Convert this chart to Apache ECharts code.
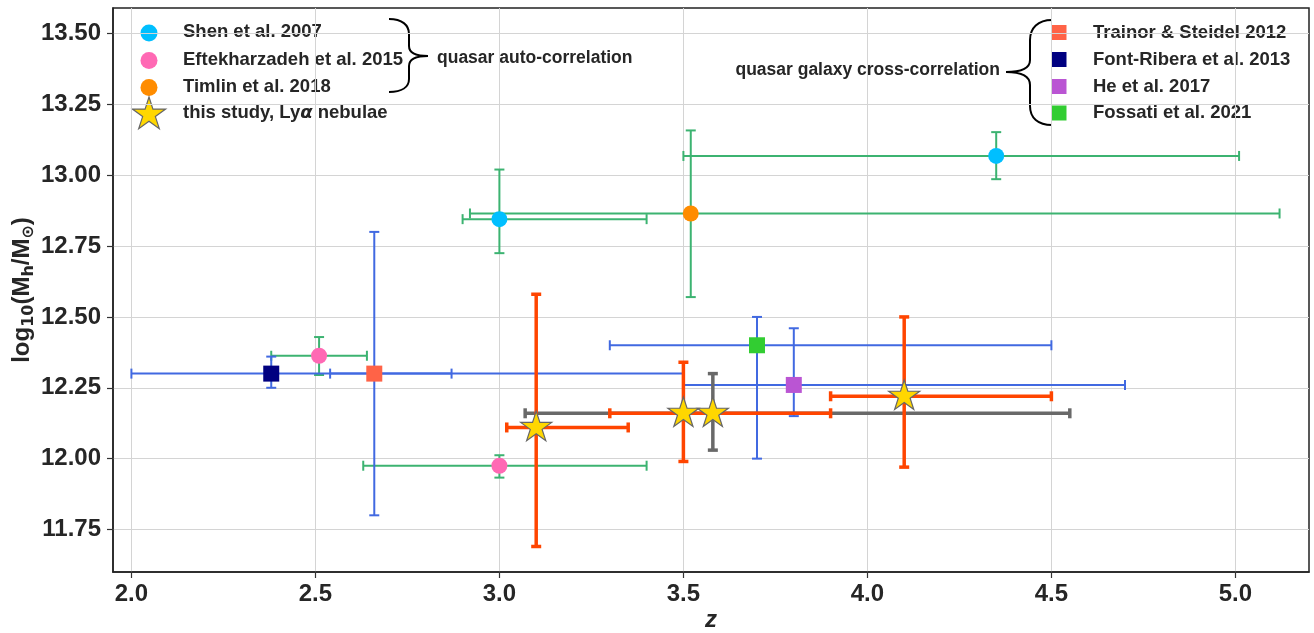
<!DOCTYPE html>
<html><head><meta charset="utf-8">
<script src="https://cdn.jsdelivr.net/npm/echarts@6/dist/echarts.min.js"></script>
<style>html,body{margin:0;padding:0;background:#fff}#c{width:1314px;height:633px}</style>
</head><body><div id="c"></div>
<script>
// Each row: [z, log10(Mh/Msun), zLow, zHigh, massLow, massHigh]
const shen2007 = [[3.00, 12.845, 2.90, 3.40, 12.725, 13.02], [4.35, 13.068, 3.50, 5.01, 12.986, 13.152]];
const eftekharzadeh2015 = [[2.51, 12.363, 2.38, 2.64, 12.295, 12.429], [3.00, 11.975, 2.63, 3.40, 11.933, 12.012]];
const timlin2018 = [[3.52, 12.865, 2.92, 5.12, 12.57, 13.158]];
const trainor2012 = [[2.66, 12.30, 2.54, 2.87, 11.80, 12.80]];
const fontRibera2013 = [[2.38, 12.30, 2.00, 3.50, 12.25, 12.36]];
const he2017 = [[3.80, 12.26, 3.50, 4.70, 12.15, 12.46]];
const fossati2021 = [[3.70, 12.40, 3.30, 4.50, 12.00, 12.50]];
const lyaNebulae = [[3.10, 12.11, 3.02, 3.35, 11.69, 12.58], [3.50, 12.16, 3.30, 3.90, 11.99, 12.34], [4.10, 12.22, 3.90, 4.50, 11.97, 12.50]];
const lyaNebulaeAll = [[3.58, 12.16, 3.07, 4.55, 12.03, 12.30]];
const xTicks = [2.0, 2.5, 3.0, 3.5, 4.0, 4.5, 5.0];
const yTicks = [11.75, 12.00, 12.25, 12.50, 12.75, 13.00, 13.25, 13.50];
const autoNames = ['Shen et al. 2007', 'Eftekharzadeh et al. 2015', 'Timlin et al. 2018'];
const crossNames = ['Trainor & Steidel 2012', 'Font-Ribera et al. 2013', 'He et al. 2017', 'Fossati et al. 2021'];

const FONT = "'Liberation Sans', Arial, Helvetica, sans-serif";
const TXT = '#262626';
const GREEN = '#3cb371', BLUE = '#4169e1', RED = '#ff4500', GRAY = '#696969';
const STAR = 'path://M0,-100 L22.45,-30.9 L95.1,-30.9 L36.33,11.8 L58.78,80.9 L0,38.2 L-58.78,80.9 L-36.33,11.8 L-95.1,-30.9 L-22.45,-30.9 Z';

function errRender(color, lw, cap) {
  return function (params, api) {
    const z = api.value(0), m = api.value(1);
    const pL = api.coord([api.value(2), m]), pR = api.coord([api.value(3), m]);
    const pB = api.coord([z, api.value(4)]), pT = api.coord([z, api.value(5)]);
    const st = { stroke: color, lineWidth: lw, lineCap: 'butt' };
    const L = (x1, y1, x2, y2) => ({ type: 'line', shape: { x1, y1, x2, y2 }, style: st });
    return { type: 'group', children: [
      L(pL[0], pL[1], pR[0], pR[1]),
      L(pL[0], pL[1] - cap, pL[0], pL[1] + cap),
      L(pR[0], pR[1] - cap, pR[0], pR[1] + cap),
      L(pB[0], pB[1], pT[0], pT[1]),
      L(pB[0] - cap, pB[1], pB[0] + cap, pB[1]),
      L(pT[0] - cap, pT[1], pT[0] + cap, pT[1])
    ]};
  };
}
let zc = 2;
function errSeries(name, rows, color, lw, cap) {
  return { type: 'custom', name: name, data: rows, z: zc++, silent: true,
    dimensions: ['z', 'm', 'zlo', 'zhi', 'mlo', 'mhi'],
    encode: { x: [0, 2, 3], y: [1, 4, 5] },
    renderItem: errRender(color, lw, cap) };
}
function markSeries(name, rows, symbol, size, color, extra) {
  return Object.assign({ type: 'scatter', name: name, data: rows.map(r => [r[0], r[1]]), z: zc++, silent: true,
    symbol: symbol, symbolSize: size, itemStyle: { color: color, opacity: 1 } }, extra || {});
}

const series = [
  errSeries(autoNames[0], shen2007, GREEN, 2, 5),
  errSeries(autoNames[1], eftekharzadeh2015, GREEN, 2, 5),
  errSeries(autoNames[2], timlin2018, GREEN, 2, 5),
  errSeries(crossNames[0], trainor2012, BLUE, 2, 5),
  errSeries(crossNames[1], fontRibera2013, BLUE, 2, 5),
  errSeries(crossNames[2], he2017, BLUE, 2, 5),
  errSeries(crossNames[3], fossati2021, BLUE, 2, 5),
  markSeries(autoNames[0], shen2007, 'circle', 16, '#00bfff'),
  markSeries(autoNames[1], eftekharzadeh2015, 'circle', 16, '#ff69b4'),
  markSeries(autoNames[2], timlin2018, 'circle', 16, '#ff8c00'),
  markSeries(crossNames[0], trainor2012, 'rect', 16, '#ff6347'),
  markSeries(crossNames[1], fontRibera2013, 'rect', 16, '#000080'),
  markSeries(crossNames[2], he2017, 'rect', 16, '#ba55d3'),
  markSeries(crossNames[3], fossati2021, 'rect', 16, '#32cd32'),
  errSeries('this study (all)', lyaNebulaeAll, GRAY, 3.5, 5),
  errSeries('this study', lyaNebulae, RED, 3.5, 5),
  markSeries('this study, Lyα nebulae', lyaNebulaeAll.concat(lyaNebulae), STAR, 31, '#ffd700',
    { symbolKeepAspect: true, symbolOffset: [0, '-5%'], itemStyle: { color: '#ffd700', borderColor: '#666666', borderWidth: 1.2, opacity: 1 } })
];

function starPts(cx, cy, R) {
  const pts = [];
  for (let i = 0; i < 10; i++) {
    const r = i % 2 === 0 ? R : R * 0.382;
    const a = -Math.PI / 2 + i * Math.PI / 5;
    pts.push([cx + r * Math.cos(a), cy + r * Math.sin(a)]);
  }
  return pts;
}
const BR = { stroke: '#000', lineWidth: 2, fill: null };
function bez(x1, y1, c1x, c1y, c2x, c2y, x2, y2) {
  return { type: 'bezierCurve', shape: { x1: x1, y1: y1, cpx1: c1x, cpy1: c1y, cpx2: c2x, cpy2: c2y, x2: x2, y2: y2 }, style: BR };
}
function ln(x1, y1, x2, y2) { return { type: 'line', shape: { x1: x1, y1: y1, x2: x2, y2: y2 }, style: BR }; }

const legFont = { fontSize: 18.5, fontWeight: 'bold', fontFamily: FONT, fill: TXT };
const annFont = { fontSize: 17.5, fontWeight: 'bold', fontFamily: FONT, fill: TXT };
const autoColors = ['#00bfff', '#ff69b4', '#ff8c00'];
const crossColors = ['#ff6347', '#000080', '#ba55d3', '#32cd32'];
const leftRows = [32, 59.5, 86.5, 113];
const rightRows = [32.5, 59.5, 86.5, 113];
const graphics = [];
autoNames.forEach((n, i) => {
  graphics.push({ type: 'circle', shape: { cx: 149, cy: leftRows[i] + 1, r: 8.5 }, style: { fill: autoColors[i] } });
  graphics.push({ type: 'text', x: 183, y: leftRows[i], style: Object.assign({ text: n, verticalAlign: 'middle', align: 'left' }, legFont) });
});
graphics.push({ type: 'polygon', shape: { points: starPts(149, leftRows[3] + 1.5, 17.5) }, style: { fill: '#ffd700', stroke: '#666666', lineWidth: 1.2 } });
graphics.push({ type: 'text', x: 183, y: leftRows[3], style: {
  text: '{n|this study, Ly}{a|α}{n| nebulae}', verticalAlign: 'middle', align: 'left',
  rich: { n: Object.assign({}, legFont), a: Object.assign({ fontStyle: 'italic' }, legFont, { fontFamily: "'DejaVu Sans', " + FONT, fontSize: 18 }) } } });
crossNames.forEach((n, i) => {
  graphics.push({ type: 'rect', shape: { x: 1051.5, y: rightRows[i] - 7.5, width: 15, height: 15 }, style: { fill: crossColors[i] } });
  graphics.push({ type: 'text', x: 1093, y: rightRows[i], style: Object.assign({ text: n, verticalAlign: 'middle', align: 'left' }, legFont) });
});
// left brace "}"
graphics.push(bez(389, 19, 402, 19, 409, 25, 409, 34), ln(409, 34, 409, 46), bez(409, 46, 409, 52, 414, 56, 428, 56),
  bez(428, 56, 414, 56, 409, 60, 409, 66), ln(409, 66, 409, 79), bez(409, 79, 409, 87, 402, 92, 389, 92));
graphics.push({ type: 'text', x: 437, y: 58, style: Object.assign({ text: 'quasar auto-correlation', verticalAlign: 'middle', align: 'left' }, annFont) });
// right brace "{"
graphics.push(bez(1052, 20, 1038, 20, 1030, 28, 1030, 40), ln(1030, 40, 1030, 60), bez(1030, 60, 1030, 68, 1022, 72, 1006, 72),
  bez(1006, 72, 1022, 72, 1030, 77, 1030, 85), ln(1030, 85, 1030, 106), bez(1030, 106, 1030, 118, 1038, 125, 1052, 125));
graphics.push({ type: 'text', x: 1000, y: 70, style: Object.assign({ text: 'quasar galaxy cross-correlation', verticalAlign: 'middle', align: 'right' }, annFont) });

const chart = echarts.init(document.getElementById('c'), null, { renderer: 'canvas' });
chart.setOption({
  animation: false,
  backgroundColor: '#fff',
  grid: { left: 113, top: 8, width: 1196, height: 564, containLabel: false, outerBoundsMode: 'none',
    show: true, borderColor: '#222', borderWidth: 1.5, backgroundColor: 'transparent' },
  xAxis: {
    type: 'value', min: 1.95, max: 5.2,
    name: 'z', nameLocation: 'middle', nameGap: 36, nameMoveOverlap: false,
    nameTextStyle: { fontSize: 24, fontWeight: 'bold', fontStyle: 'italic', color: TXT, fontFamily: FONT },
    axisLine: { show: true, onZero: false, lineStyle: { color: '#222', width: 1.5 } },
    axisTick: { show: true, length: 6, customValues: xTicks, lineStyle: { color: '#333', width: 1.2 } },
    axisLabel: { customValues: xTicks, formatter: v => Number(v).toFixed(1), fontSize: 24, fontWeight: 'bold', color: TXT, fontFamily: FONT, margin: 10 },
    splitLine: { show: true, lineStyle: { color: '#d4d4d4', width: 1 } }
  },
  yAxis: {
    type: 'value', min: 11.6, max: 13.59,
    name: '{a|log}{s|10}{a|(M}{s|h}{a|/M}{s|⊙}{a|)}', nameLocation: 'middle', nameGap: 76, nameMoveOverlap: false,
    nameTextStyle: { fontSize: 24, fontWeight: 'bold', color: TXT, fontFamily: FONT,
      rich: { a: { fontSize: 24, fontWeight: 'bold', color: TXT, fontFamily: FONT, lineHeight: 30 },
              s: { fontSize: 16, fontWeight: 'bold', color: TXT, fontFamily: "'DejaVu Sans', " + FONT, verticalAlign: 'bottom' } } },
    axisLine: { show: true, onZero: false, lineStyle: { color: '#222', width: 1.5 } },
    axisTick: { show: true, length: 6, customValues: yTicks, lineStyle: { color: '#333', width: 1.2 } },
    axisLabel: { customValues: yTicks, formatter: v => Number(v).toFixed(2), fontSize: 24, fontWeight: 'bold', color: TXT, fontFamily: FONT, margin: 12 },
    splitLine: { show: true, lineStyle: { color: '#d4d4d4', width: 1 } }
  },
  graphic: graphics,
  series: series
});
</script>
</body></html>
